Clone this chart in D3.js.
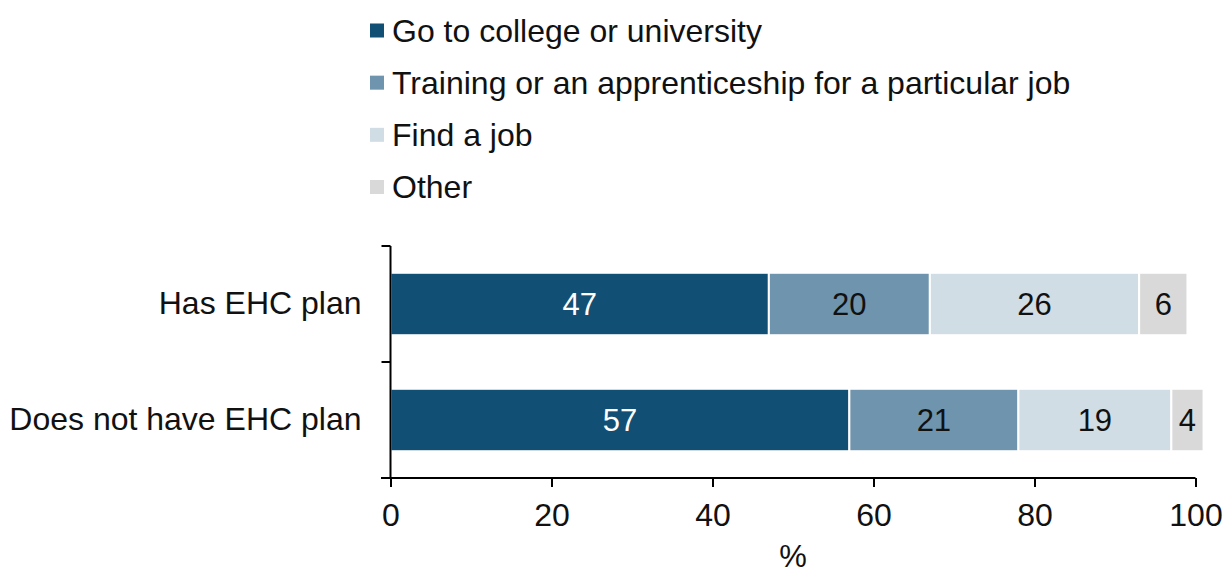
<!DOCTYPE html>
<html>
<head>
<meta charset="utf-8">
<script src="https://cdn.jsdelivr.net/npm/d3@7"></script>
<style>
  html, body { margin: 0; padding: 0; background: #fff; }
  svg { display: block; font-family: "Liberation Sans", Arial, sans-serif; }
</style>
</head>
<body>
<svg id="chart" width="1227" height="572"></svg>
<script>
// Post-16 intentions by EHC plan status (%)
const groups = ["Has EHC plan", "Does not have EHC plan"];
const seriesNames = [
  "Go to college or university",
  "Training or an apprenticeship for a particular job",
  "Find a job",
  "Other"
];
const college = [47, 57];
const training = [20, 21];
const findJob = [26, 19];
const other = [6, 4];
const xTicks = [0, 20, 40, 60, 80, 100];
const xTitle = "%";

const colors = ["#124f75", "#6f94ad", "#d0dde5", "#d9d9d9"];
const labelColors = ["#ffffff", "#111111", "#111111", "#111111"];

const rows = groups.map((g, i) => ({
  group: g,
  "Go to college or university": college[i],
  "Training or an apprenticeship for a particular job": training[i],
  "Find a job": findJob[i],
  "Other": other[i]
}));

const svg = d3.select("#chart");

const x = d3.scaleLinear().domain([0, 100]).range([390.5, 1195.5]);
const y = d3.scaleBand().domain(groups).range([246, 478])
  .paddingInner(0.462).paddingOuter(0.231);

const stacked = d3.stack().keys(seriesNames)(rows);

// Bars
const layer = svg.append("g").selectAll("g")
  .data(stacked)
  .join("g")
  .attr("fill", (d, i) => colors[i]);

layer.selectAll("rect")
  .data(d => d)
  .join("rect")
  .attr("x", d => x(d[0]))
  .attr("y", d => y(d.data.group))
  .attr("width", d => x(d[1]) - x(d[0]))
  .attr("height", y.bandwidth())
  .attr("stroke", "#ffffff")
  .attr("stroke-width", 2);

// Segment value labels
stacked.forEach((s, si) => {
  svg.append("g").selectAll("text")
    .data(s)
    .join("text")
    .attr("x", d => (x(d[0]) + x(d[1])) / 2)
    .attr("y", d => y(d.data.group) + y.bandwidth() / 2)
    .attr("text-anchor", "middle")
    .attr("dominant-baseline", "central")
    .attr("font-size", 31)
    .attr("fill", labelColors[si])
    .text(d => d[1] - d[0]);
});

// X axis
const xAxis = svg.append("g")
  .attr("transform", "translate(0,478)")
  .call(d3.axisBottom(x).tickValues(xTicks).tickSize(9).tickPadding(16).tickSizeOuter(0));
xAxis.select(".domain").remove();
xAxis.append("line")
  .attr("x1", 381).attr("x2", x(100))
  .attr("stroke", "#000").attr("stroke-width", 2);
xAxis.selectAll(".tick line").attr("stroke", "#000").attr("stroke-width", 2);
xAxis.selectAll(".tick text")
  .attr("font-size", 32)
  .attr("fill", "#111")
  .attr("font-family", "Liberation Sans, Arial, sans-serif");

svg.append("text")
  .attr("x", (x(0) + x(100)) / 2)
  .attr("y", 556)
  .attr("text-anchor", "middle")
  .attr("dominant-baseline", "central")
  .attr("font-size", 31)
  .attr("fill", "#111")
  .text(xTitle);

// Y axis: category labels plus boundary ticks between bands
const yAxis = svg.append("g")
  .attr("transform", `translate(${x(0)},0)`)
  .call(d3.axisLeft(y).tickSize(0).tickPadding(29));
yAxis.select(".domain").remove();
yAxis.selectAll(".tick text")
  .attr("font-size", 32)
  .attr("fill", "#111")
  .attr("font-family", "Liberation Sans, Arial, sans-serif");

const [y0, y1] = y.range();
const boundaries = d3.range(groups.length + 1).map(i => y0 + i * y.step());
svg.append("line")
  .attr("x1", x(0)).attr("x2", x(0))
  .attr("y1", y0).attr("y2", y1)
  .attr("stroke", "#000").attr("stroke-width", 2);
svg.append("g").selectAll("line")
  .data(boundaries)
  .join("line")
  .attr("x1", x(0) - 9).attr("x2", x(0))
  .attr("y1", d => d).attr("y2", d => d)
  .attr("stroke", "#000").attr("stroke-width", 2);

// Legend
const legendY = d3.scalePoint().domain(seriesNames).range([30.5, 187]);
const legend = svg.append("g").selectAll("g")
  .data(seriesNames)
  .join("g")
  .attr("transform", d => `translate(370,${legendY(d)})`);
legend.append("rect")
  .attr("x", 0).attr("y", -7)
  .attr("width", 14).attr("height", 14)
  .attr("fill", (d, i) => colors[i]);
legend.append("text")
  .attr("x", 22).attr("y", 0)
  .attr("dominant-baseline", "central")
  .attr("font-size", 32)
  .attr("fill", "#111")
  .text(d => d);
</script>
</body>
</html>
